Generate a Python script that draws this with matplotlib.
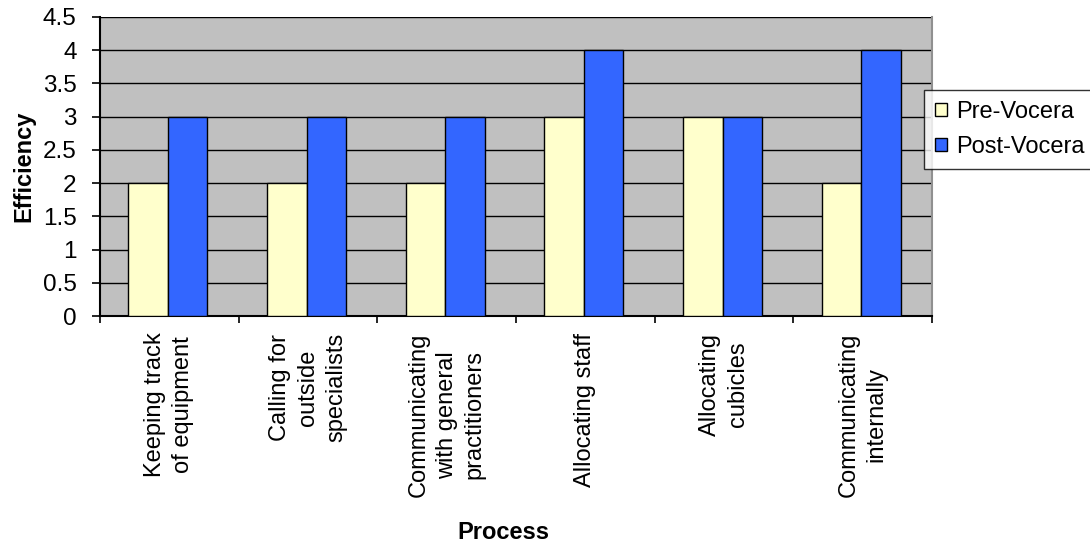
import matplotlib
matplotlib.use("Agg")
import matplotlib.pyplot as plt
import numpy as np

categories = [
    "Keeping track\nof equipment",
    "Calling for\noutside\nspecialists",
    "Communicating\nwith general\npractitioners",
    "Allocating staff",
    "Allocating\ncubicles",
    "Communicating\ninternally",
]
pre_vocera = [2, 2, 2, 3, 3, 2]
post_vocera = [3, 3, 3, 4, 3, 4]
series_names = ["Pre-Vocera", "Post-Vocera"]
y_ticks = [0, 0.5, 1, 1.5, 2, 2.5, 3, 3.5, 4, 4.5]

plt.rcParams["font.family"] = ["Liberation Sans", "DejaVu Sans"]
plt.rcParams["font.size"] = 17

fig = plt.figure(figsize=(10.9, 5.44), dpi=100)
ax = fig.add_axes([0.0917, 0.419, 0.7633, 0.550])
ax.set_facecolor("#C0C0C0")

x = np.arange(len(categories))
w = 0.285
ax.bar(x - w / 2 - 0.01, pre_vocera, w, color="#FFFFCC", edgecolor="black",
       linewidth=1.0, label=series_names[0], zorder=3)
ax.bar(x + w / 2 - 0.01, post_vocera, w, color="#3366FF", edgecolor="black",
       linewidth=1.0, label=series_names[1], zorder=3)

ax.set_xlim(-0.5, len(categories) - 0.5)
ax.set_ylim(0, 4.5)
ax.set_yticks(y_ticks)
ax.set_yticklabels([f"{t:g}" for t in y_ticks], fontsize=17.5)
ax.yaxis.grid(True, color="black", linewidth=1.0, zorder=0)
ax.set_axisbelow(True)

# category boundary ticks on the x axis, labels centered beneath each group
ax.set_xticks(np.arange(len(categories) + 1) - 0.5)
ax.set_xticklabels([])
ax.set_xticks(x, minor=True)
ax.set_xticklabels(categories, minor=True, rotation=90, ha="center",
                   va="top", multialignment="center", linespacing=1.35)
ax.tick_params(axis="x", which="minor", length=0, pad=12)
ax.tick_params(axis="x", which="major", length=5, width=1.2, direction="out")
ax.tick_params(axis="y", length=5.8, width=1.2, direction="out", pad=11)
ax.xaxis.get_major_ticks()[-1].tick1line.set_color("#909090")

ax.spines["top"].set_visible(False)
ax.spines["right"].set_color("#909090")
ax.spines["right"].set_linewidth(1.5)
for side in ["left", "bottom"]:
    ax.spines[side].set_linewidth(1.5)

ax.set_ylabel("Efficiency", fontweight="bold", fontsize=17, labelpad=5)
fig.text(0.462, 0.022, "Process", fontweight="bold", fontsize=17,
         ha="center", va="center")

leg = fig.legend(loc="upper left", bbox_to_anchor=(0.848, 0.834),
                 frameon=True, fancybox=False, edgecolor="black",
                 handlelength=0.5, handleheight=0.5, handletextpad=0.4,
                 borderpad=0.45, labelspacing=0.55, borderaxespad=0,
                 fontsize=17)
leg.get_frame().set_linewidth(1.0)

fig.savefig("out.png", dpi=100, facecolor="white")
